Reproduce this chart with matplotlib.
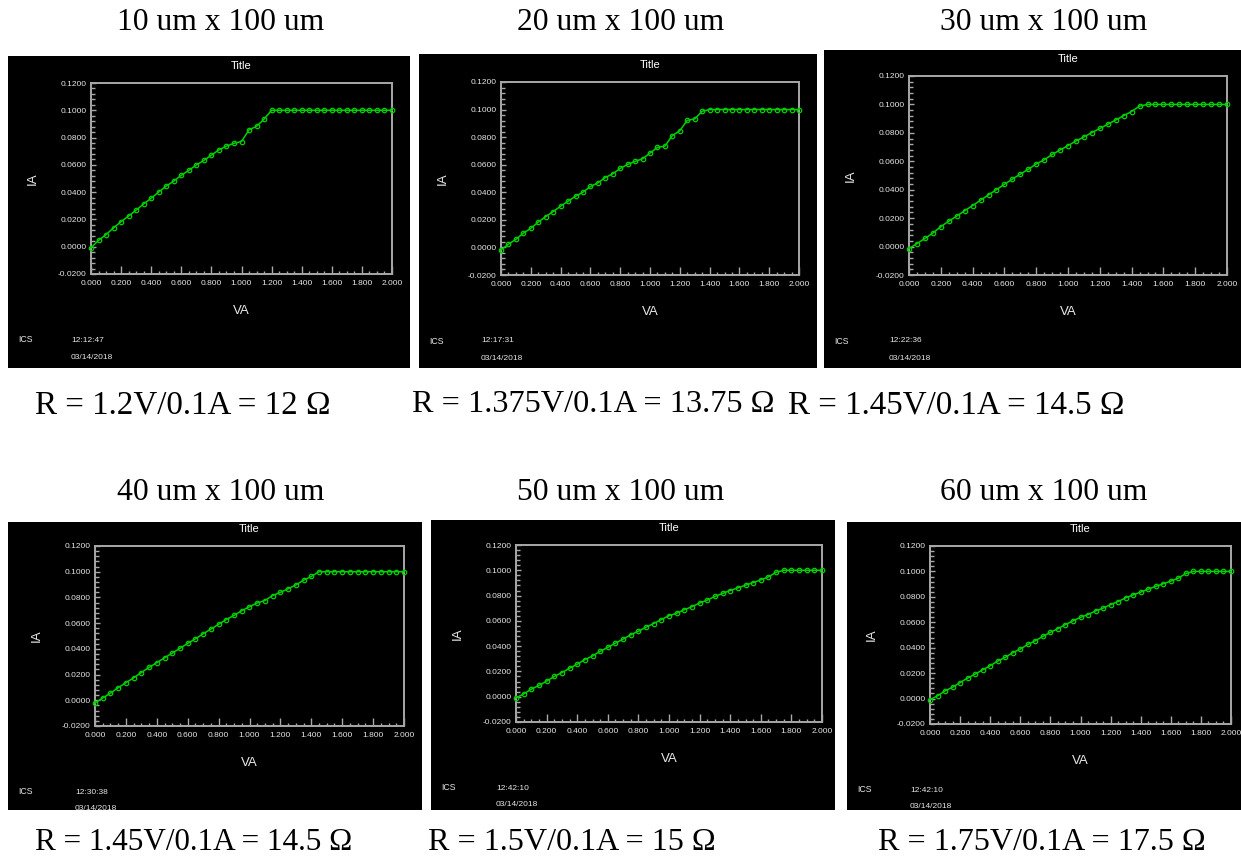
import matplotlib
matplotlib.use("Agg")
import matplotlib.pyplot as plt
from matplotlib.patches import Rectangle
from matplotlib.ticker import MultipleLocator, FormatStrFormatter

# ---------------- data ----------------
volts = [0.00, 0.05, 0.10, 0.15, 0.20, 0.25, 0.30, 0.35, 0.40, 0.45,
         0.50, 0.55, 0.60, 0.65, 0.70, 0.75, 0.80, 0.85, 0.90, 0.95,
         1.00, 1.05, 1.10, 1.15, 1.20, 1.25, 1.30, 1.35, 1.40, 1.45,
         1.50, 1.55, 1.60, 1.65, 1.70, 1.75, 1.80, 1.85, 1.90, 1.95, 2.00]

amps_10um = [-0.0007, 0.0046, 0.0089, 0.0138, 0.0184, 0.0225, 0.0268, 0.0314, 0.0355, 0.0401,
             0.0444, 0.0481, 0.0524, 0.0560, 0.0599, 0.0633, 0.0671, 0.0710, 0.0737, 0.0758,
             0.0771, 0.0857, 0.0882, 0.0935, 0.1000, 0.1000, 0.1000, 0.1000, 0.1000, 0.1000,
             0.1000, 0.1000, 0.1000, 0.1000, 0.1000, 0.1000, 0.1000, 0.1000, 0.1000, 0.1000, 0.1000]
amps_20um = [-0.0019, 0.0024, 0.0058, 0.0104, 0.0138, 0.0184, 0.0223, 0.0260, 0.0299, 0.0335,
             0.0371, 0.0400, 0.0442, 0.0468, 0.0507, 0.0534, 0.0573, 0.0602, 0.0624, 0.0643,
             0.0684, 0.0726, 0.0735, 0.0811, 0.0847, 0.0922, 0.0932, 0.0988, 0.1000, 0.1000,
             0.1000, 0.1000, 0.1000, 0.1000, 0.1000, 0.1000, 0.1000, 0.1000, 0.1000, 0.1000, 0.1000]
amps_30um = [-0.0014, 0.0021, 0.0057, 0.0095, 0.0140, 0.0179, 0.0214, 0.0252, 0.0288, 0.0326,
             0.0364, 0.0400, 0.0438, 0.0474, 0.0510, 0.0543, 0.0581, 0.0610, 0.0648, 0.0679,
             0.0710, 0.0743, 0.0771, 0.0802, 0.0831, 0.0860, 0.0890, 0.0921, 0.0950, 0.0988,
             0.1000, 0.1000, 0.1000, 0.1000, 0.1000, 0.1000, 0.1000, 0.1000, 0.1000, 0.1000, 0.1000]
amps_40um = [-0.0021, 0.0018, 0.0055, 0.0098, 0.0137, 0.0174, 0.0216, 0.0256, 0.0293, 0.0330,
             0.0367, 0.0404, 0.0443, 0.0478, 0.0517, 0.0554, 0.0591, 0.0628, 0.0660, 0.0697,
             0.0728, 0.0757, 0.0776, 0.0815, 0.0839, 0.0868, 0.0897, 0.0934, 0.0963, 0.1000,
             0.1000, 0.1000, 0.1000, 0.1000, 0.1000, 0.1000, 0.1000, 0.1000, 0.1000, 0.1000, 0.1000]
amps_50um = [-0.0008, 0.0021, 0.0060, 0.0089, 0.0123, 0.0160, 0.0191, 0.0225, 0.0257, 0.0293,
             0.0322, 0.0359, 0.0390, 0.0424, 0.0455, 0.0490, 0.0518, 0.0550, 0.0579, 0.0610,
             0.0641, 0.0660, 0.0688, 0.0712, 0.0741, 0.0764, 0.0793, 0.0817, 0.0840, 0.0861,
             0.0882, 0.0903, 0.0924, 0.0948, 0.0984, 0.1000, 0.1000, 0.1000, 0.1000, 0.1000, 0.1000]
amps_60um = [-0.0008, 0.0021, 0.0061, 0.0089, 0.0126, 0.0161, 0.0192, 0.0226, 0.0258, 0.0295,
             0.0324, 0.0361, 0.0389, 0.0426, 0.0455, 0.0489, 0.0521, 0.0550, 0.0582, 0.0611,
             0.0639, 0.0661, 0.0689, 0.0711, 0.0739, 0.0763, 0.0792, 0.0816, 0.0837, 0.0861,
             0.0882, 0.0903, 0.0924, 0.0947, 0.0984, 0.1000, 0.1000, 0.1000, 0.1000, 0.1000, 0.1000]

sizes = ["10 um x 100 um", "20 um x 100 um", "30 um x 100 um",
         "40 um x 100 um", "50 um x 100 um", "60 um x 100 um"]
captions = ["R = 1.2V/0.1A = 12 Ω", "R = 1.375V/0.1A = 13.75 Ω", "R = 1.45V/0.1A = 14.5 Ω",
            "R = 1.45V/0.1A = 14.5 Ω", "R = 1.5V/0.1A = 15 Ω", "R = 1.75V/0.1A = 17.5 Ω"]
times = ["12:12:47", "12:17:31", "12:22:36", "12:30:38", "12:42:10", "12:42:10"]
dates = ["03/14/2018"] * 6
series = [amps_10um, amps_20um, amps_30um, amps_40um, amps_50um, amps_60um]

# ---------------- layout (pixels) ----------------
W, H = 1241, 859
# black panel boxes: left, top, right, bottom
panels = [(8, 56, 410, 368), (419, 54, 817, 368), (824, 50, 1241, 368),
          (8, 522, 422, 810), (431, 520, 835, 810), (847, 522, 1241, 810)]
# plot areas: left, top, right, bottom
plots = [(91, 83, 392, 274), (501, 82, 799, 275), (909, 76, 1227, 275),
         (95, 546, 404, 726), (516, 545, 822, 722), (930, 546, 1231, 724)]
size_pos = [(221, 22), (621, 22), (1044, 22), (221, 492), (621, 492), (1044, 492)]
cap_pos = [(35, 405), (412, 405), (788, 405), (35, 843), (428, 843), (878, 843)]
cap_fs = [23.8, 23.2, 23.8, 22.4, 23.1, 23.1]

plt.rcParams['font.family'] = ['Liberation Sans', 'DejaVu Sans']

fig = plt.figure(figsize=(W / 100, H / 100), dpi=100)
fig.patch.set_facecolor('white')


def fx(x):
    return x / W


def fy(y):
    return 1 - y / H


GREEN = '#00d000'
GRAY = '#a8a8a8'
LABEL = '#e6e6e6'

for i in range(6):
    l, t, r, b = panels[i]
    fig.add_artist(Rectangle((fx(l), fy(b)), (r - l) / W, (b - t) / H,
                             transform=fig.transFigure, facecolor='black',
                             edgecolor='none', zorder=0))
    al, at, ar, ab = plots[i]
    ax = fig.add_axes([fx(al), fy(ab), (ar - al) / W, (ab - at) / H])
    ax.set_facecolor('black')
    ax.plot(volts, series[i], color=GREEN, lw=1.1, marker='o', ms=3.2,
            mfc='none', mec=GREEN, mew=0.9, clip_on=False, zorder=3)
    ax.set_xlim(0, 2.0)
    ax.set_ylim(-0.02, 0.12)
    ax.xaxis.set_major_locator(MultipleLocator(0.2))
    ax.xaxis.set_minor_locator(MultipleLocator(0.05))
    ax.yaxis.set_major_locator(MultipleLocator(0.02))
    ax.yaxis.set_minor_locator(MultipleLocator(0.004))
    ax.xaxis.set_major_formatter(FormatStrFormatter('%.3f'))
    ax.yaxis.set_major_formatter(FormatStrFormatter('%.4f'))
    for s in ax.spines.values():
        s.set_color(GRAY)
        s.set_linewidth(1.4)
    ax.tick_params(axis='x', which='major', direction='in', length=5.5, width=1.0,
                   color=GRAY, labelcolor=LABEL, labelsize=6.0, pad=4)
    ax.tick_params(axis='x', which='minor', direction='in', length=2.5, width=1.0,
                   color=GRAY)
    ax.tick_params(axis='y', which='major', direction='in', length=3.5, width=1.0,
                   color=GRAY, labelcolor=LABEL, labelsize=6.0, pad=3)
    ax.tick_params(axis='y', which='minor', direction='in', length=3.0, width=1.0,
                   color=GRAY)
    cx = (al + ar) / 2
    fig.text(fx(cx), fy(at - 17), "Title", color='white', fontsize=8,
             ha='center', va='center')
    fig.text(fx(cx), fy(ab + 37), "VA", color=LABEL, fontsize=9.5,
             ha='center', va='center')
    fig.text(fx(al - 58), fy((at + ab) / 2), "IA", color=LABEL, fontsize=9.5,
             ha='center', va='center', rotation=90)
    fig.text(fx(l + 10), fy(ab + 66), "ICS", color=LABEL, fontsize=6.3,
             ha='left', va='center')
    fig.text(fx(al - 20), fy(ab + 66), times[i], color=LABEL, fontsize=6.0,
             ha='left', va='center')
    fig.text(fx(al - 20), fy(ab + 83), dates[i], color=LABEL, fontsize=6.0,
             ha='left', va='center')
    # outer texts
    sx, sy = size_pos[i]
    fig.text(fx(sx), fy(sy), sizes[i], family='Liberation Serif', fontsize=22.8,
             color='black', ha='center', va='center')
    cxp, cyp = cap_pos[i]
    fig.text(fx(cxp), fy(cyp), captions[i], family='Liberation Serif', fontsize=cap_fs[i],
             color='black', ha='left', va='center')

fig.savefig("out.png", dpi=100, facecolor='white')
